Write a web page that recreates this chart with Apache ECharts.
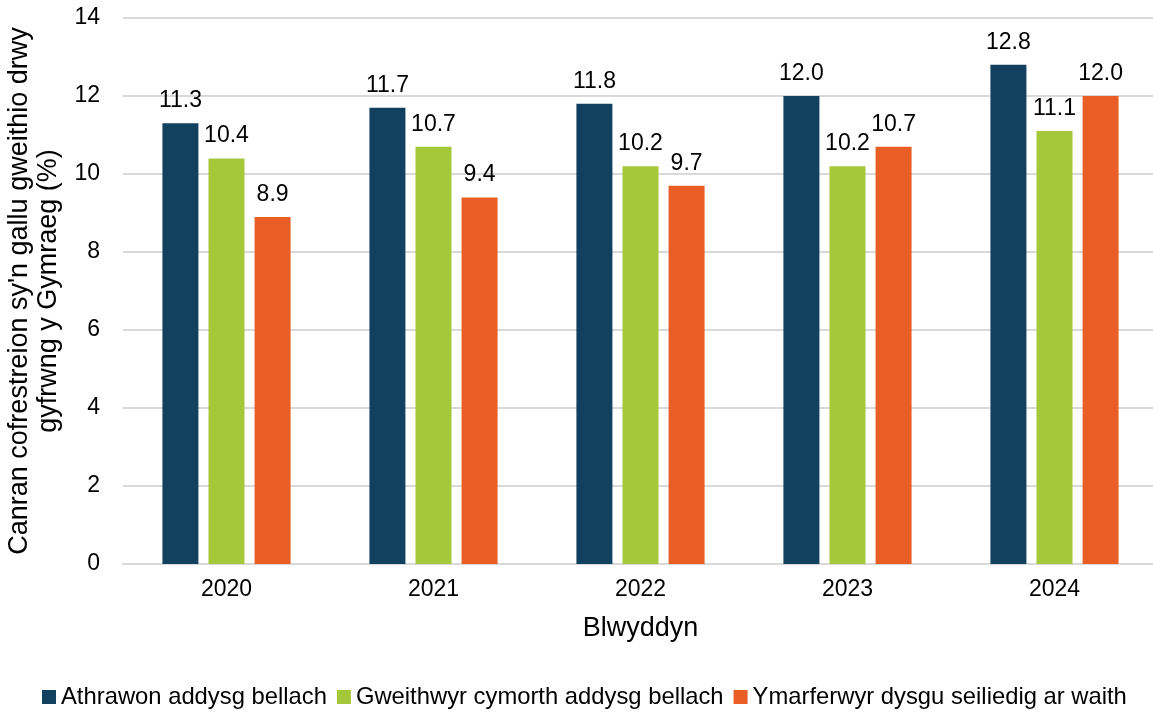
<!DOCTYPE html>
<html><head><meta charset="utf-8">
<script src="https://cdn.jsdelivr.net/npm/echarts@6/dist/echarts.min.js"></script>
<style>html,body{margin:0;padding:0;background:#fff}#c{width:1153px;height:715px}</style>
</head><body><div id="c"></div>
<script>
const categories = ['2020','2021','2022','2023','2024'];
const seriesNames = ['Athrawon addysg bellach','Gweithwyr cymorth addysg bellach','Ymarferwyr dysgu seiliedig ar waith'];
const athrawon = [11.3, 11.7, 11.8, 12.0, 12.8];
const gweithwyr = [10.4, 10.7, 10.2, 10.2, 11.1];
const ymarferwyr = [8.9, 9.4, 9.7, 10.7, 12.0];
const colors = ['#12405F', '#A5C73A', '#E85E24'];
const font = 'Liberation Sans, Arial, sans-serif';
const chart = echarts.init(document.getElementById('c'));
const mk = (name, data, color) => ({
  name, type: 'bar', data, barWidth: 36, barGap: '28%',
  itemStyle: { color },
  label: { show: true, position: 'top', distance: 11, color: '#000', fontFamily: font, fontSize: 23,
    formatter: p => p.value.toFixed(1) }
});
chart.setOption({
  animation: false,
  textStyle: { fontFamily: font },
  grid: { left: 123, width: 1035, top: 18, bottom: 151, containLabel: false, outerBoundsMode: 'none' },
  legend: {
    top: 680, left: 37, itemWidth: 14, itemHeight: 14, itemGap: 10,
    icon: 'rect',
    textStyle: { fontFamily: font, fontSize: 23.8, color: '#000' },
    data: seriesNames
  },
  xAxis: {
    type: 'category', data: categories,
    name: 'Blwyddyn', nameLocation: 'middle', nameGap: 51,
    nameTextStyle: { fontFamily: font, fontSize: 27, color: '#000' },
    axisLine: { lineStyle: { color: '#d9d9d9', width: 2 } },
    axisTick: { show: false },
    axisLabel: { fontFamily: font, fontSize: 23, color: '#000', margin: 14 }
  },
  yAxis: {
    type: 'value', min: 0, max: 14, interval: 2,
    name: "Canran cofrestreion sy'n gallu gweithio drwy\ngyfrwng y Gymraeg (%)",
    nameLocation: 'middle', nameGap: 53,
    nameTextStyle: { fontFamily: font, fontSize: 27, color: '#000', lineHeight: 29 },
    axisLine: { show: false }, axisTick: { show: false },
    axisLabel: { fontFamily: font, fontSize: 23, color: '#000', margin: 23 },
    splitLine: { lineStyle: { color: '#d9d9d9', width: 2 } }
  },
  series: [mk(seriesNames[0], athrawon, colors[0]), mk(seriesNames[1], gweithwyr, colors[1]), mk(seriesNames[2], ymarferwyr, colors[2])]
});
</script></body></html>
